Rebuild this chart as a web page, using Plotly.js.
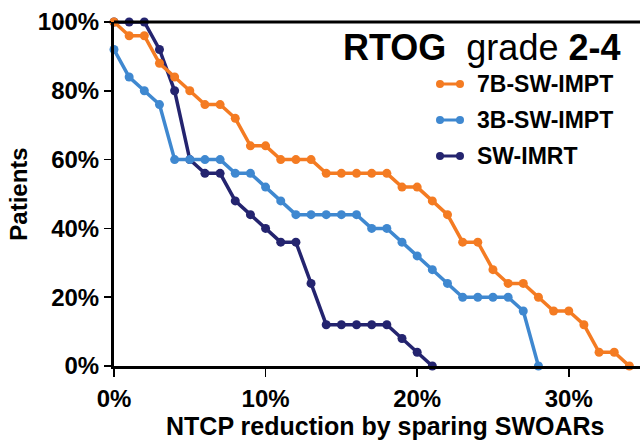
<!DOCTYPE html>
<html>
<head>
<meta charset="utf-8">
<script src="https://cdn.plot.ly/plotly-3.0.1.min.js"></script>
<style>
  html, body { margin: 0; padding: 0; background: #fff; }
  #chart { width: 640px; height: 441px; }
</style>
</head>
<body>
<div id="chart"></div>
<script>
// ---- data ----
const seriesNames = ["7B-SW-IMPT", "3B-SW-IMPT", "SW-IMRT"];

const x7B = [0,1,2,3,4,5,6,7,8,9,10,11,12,13,14,15,16,17,18,19,20,21,22,23,24,25,26,27,28,29,30,31,32,33,34];
const y7B = [100,96,96,88,84,80,76,76,72,64,64,60,60,60,56,56,56,56,56,52,52,48,44,36,36,28,24,24,20,16,16,12,4,4,0];

const x3B = [0,1,2,3,4,5,6,7,8,9,10,11,12,13,14,15,16,17,18,19,20,21,22,23,24,25,26,27,28];
const y3B = [92,84,80,76,60,60,60,60,56,56,52,48,44,44,44,44,44,40,40,36,32,28,24,20,20,20,20,16,0];

const xIMRT = [0,1,2,3,4,5,6,7,8,9,10,11,12,13,14,15,16,17,18,19,20,21];
const yIMRT = [100,100,100,92,80,60,56,56,48,44,40,36,36,24,12,12,12,12,12,8,4,0];

const xTicks = [0, 10, 20, 30];
const yTicks = [0, 20, 40, 60, 80, 100];

const titleText = "RTOG";
const titleMid = "grade";
const titleEnd = "2-4";
const xTitle = "NTCP reduction by sparing SWOARs";
const yTitle = "Patients";

// ---- styles ----
const colors = {"7B-SW-IMPT": "#F47B22", "3B-SW-IMPT": "#3F88D0", "SW-IMRT": "#24246F"};
const FONT = "Arial, 'Liberation Sans', Helvetica, sans-serif";

function mk(name, x, y) {
  return {
    type: "scatter", mode: "lines+markers", name: name, x: x, y: y,
    line: {color: colors[name], width: 3.5},
    marker: {color: colors[name], size: 9},
    cliponaxis: false, showlegend: false, hoverinfo: "x+y+name"
  };
}

// drawing order: SW-IMRT below, 7B on top
const data = [
  mk(seriesNames[2], xIMRT, yIMRT),
  mk(seriesNames[1], x3B, y3B),
  mk(seriesNames[0], x7B, y7B)
];

// custom legend (line with a dot at each end, as in the reference)
const L = 114, T = 22, W = 526, H = 344;
const px2x = p => (p - L) / W;
const px2y = p => (T + H - p) / H;
const legendRows = [84, 120, 156];
const shapes = [
  {type: "line", xref: "paper", yref: "paper", x0: 0, x1: 1, y0: 1, y1: 1,
   line: {color: "#000", width: 3}}
];
const annotations = [
  {xref: "paper", yref: "paper", x: px2x(622), y: px2y(47), xanchor: "right", yanchor: "middle",
   showarrow: false,
   text: "<b>" + titleText + "</b>\u00A0\u00A0" + titleMid + " <b>" + titleEnd + "</b>",
   font: {family: FONT, size: 36, color: "#000"}},
  // x-axis title
  {xref: "paper", yref: "paper", x: px2x(385), y: px2y(426), xanchor: "center", yanchor: "middle",
   showarrow: false, text: xTitle,
   font: {family: FONT, size: 25, color: "#000", weight: "bold"}}
];
seriesNames.forEach((n, i) => {
  const yy = px2y(legendRows[i]);
  shapes.push({type: "line", xref: "paper", yref: "paper", x0: px2x(440), x1: px2x(460), y0: yy, y1: yy,
               line: {color: colors[n], width: 3}});
  [440, 460].forEach(px => {
    shapes.push({type: "circle", xref: "paper", yref: "paper",
                 xsizemode: "pixel", ysizemode: "pixel",
                 xanchor: px2x(px), yanchor: yy, x0: -4, x1: 4, y0: -4, y1: 4,
                 fillcolor: colors[n], line: {color: colors[n], width: 0}});
  });
  annotations.push({xref: "paper", yref: "paper", x: px2x(475), y: yy, xanchor: "left", yanchor: "middle",
                    showarrow: false, text: n,
                    font: {family: FONT, size: 23, color: "#000", weight: "bold"}});
});

const layout = {
  width: 640, height: 441,
  margin: {l: L, r: 0, t: T, b: 441 - T - H},
  paper_bgcolor: "#fff", plot_bgcolor: "#fff",
  showlegend: false,
  font: {family: FONT, color: "#000"},
  xaxis: {
    range: [0, 34.7], tickvals: xTicks, ticktext: xTicks.map(v => v + "%"),
    showgrid: false, zeroline: false,
    showline: true, linecolor: "#000", linewidth: 3,
    ticks: "outside", ticklen: 8, tickwidth: 1.5, tickcolor: "#000",
    ticklabelstandoff: 1,
    tickfont: {family: FONT, size: 24, color: "#000", weight: "bold"}
  },
  yaxis: {
    range: [0, 100], tickvals: yTicks, ticktext: yTicks.map(v => v + "%"),
    showgrid: false, zeroline: false,
    showline: true, linecolor: "#000", linewidth: 3,
    ticks: "outside", ticklen: 7, tickwidth: 1.5, tickcolor: "#000",
    tickfont: {family: FONT, size: 24, color: "#000", weight: "bold"},
    title: {text: yTitle, standoff: 4, font: {family: FONT, size: 24, color: "#000", weight: "bold"}}
  },
  shapes: shapes,
  annotations: annotations
};

Plotly.newPlot("chart", data, layout, {displayModeBar: false, staticPlot: true});
</script>
</body>
</html>
